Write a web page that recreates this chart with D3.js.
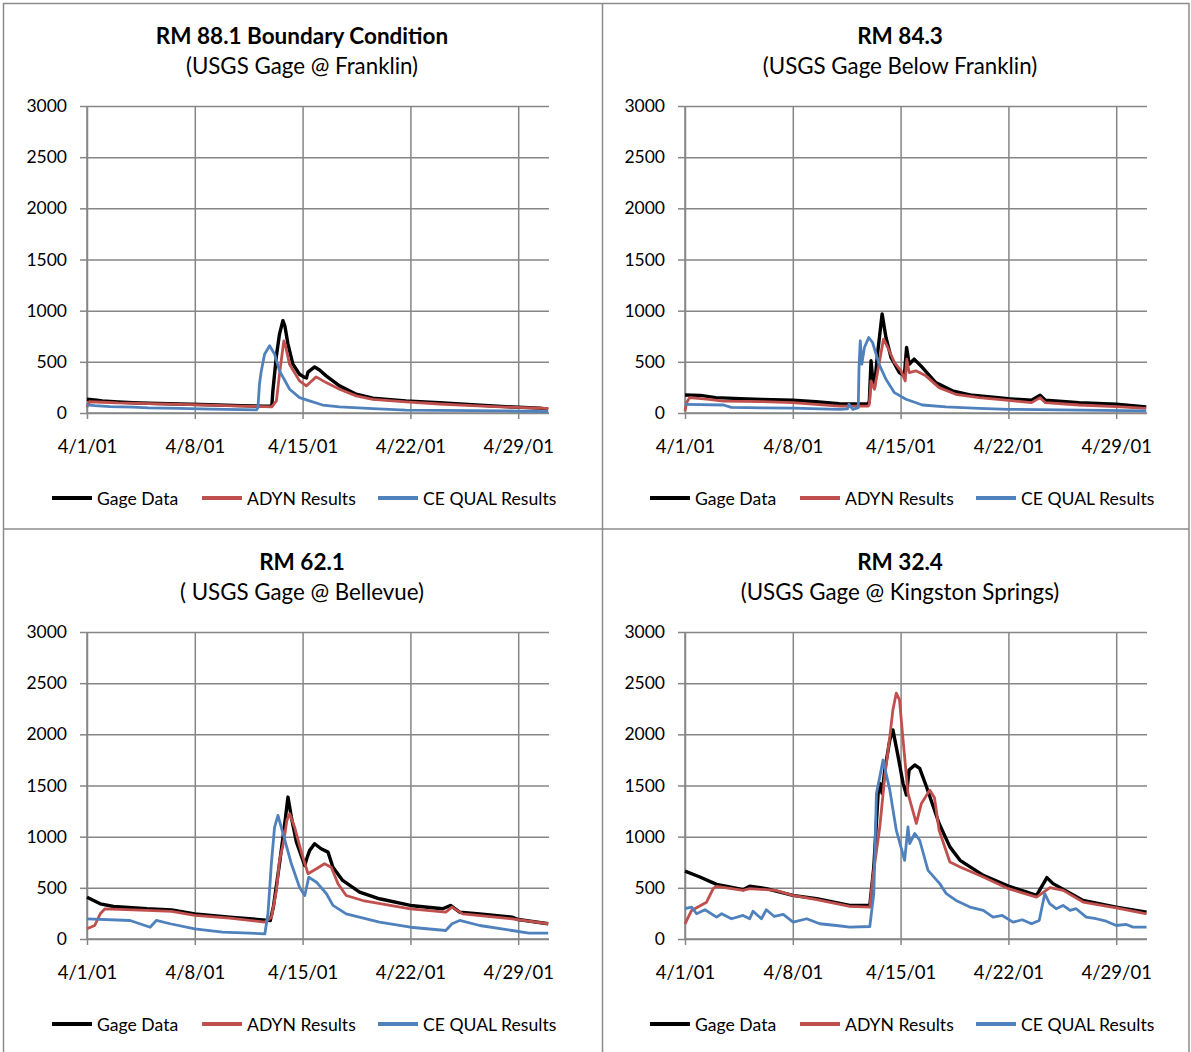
<!DOCTYPE html>
<html>
<head>
<meta charset="utf-8">
<script src="https://cdn.jsdelivr.net/npm/d3@7"></script>
<style>
  body { margin: 0; background: #fff; }
  svg { display: block; font-family: Lato, "Open Sans", sans-serif; }
</style>
</head>
<body>
<svg id="chart" width="1191" height="1052"></svg>
<script>
// values: [day since 4/1/01, flow]
const rm881Gage = [[0,135],[0.5,128],[1,118],[2,108],[3,100],[4,95],[6,88],[8,80],[10,72],[11.5,66],[12,70],[12.07,215],[12.3,560],[12.5,771],[12.72,902],[12.85,850],[13.05,673],[13.37,477],[13.8,379],[14.1,350],[14.25,342],[14.35,400],[14.78,450],[15.1,420],[15.53,363],[16.4,265],[17.48,183],[18.56,144],[20.7,118],[22.9,101],[25,80],[27.2,62],[29.4,48],[29.95,38]];
const rm881Adyn = [[0,60],[0.15,110],[1,105],[2,98],[4,92],[6,85],[8,77],[10,68],[12,60],[12.3,118],[12.5,380],[12.78,705],[12.9,650],[13.15,477],[13.8,314],[14.24,265],[14.5,300],[14.88,353],[15.53,297],[16.4,232],[17.48,167],[18.56,134],[20.7,108],[22.9,88],[25,72],[27.2,58],[29.4,48],[29.95,42]];
const rm881Ceq = [[0,80],[0.5,72],[1.5,62],[3,58],[4,50],[6,45],[8,38],[10,32],[11,30],[11.1,52],[11.2,284],[11.3,395],[11.53,575],[11.86,657],[12.18,575],[12.5,412],[13.16,232],[13.8,150],[14.45,118],[15.3,78],[16.4,59],[18.56,42],[20.7,29],[22.9,26],[27.2,20],[29.95,14]];

const rm843Gage = [[0,176],[1,172],[2,150],[3.6,140],[5,133],[7,124],[8.5,110],[10,91],[11.9,88],[11.97,118],[12.08,510],[12.18,346],[12.3,248],[12.5,575],[12.8,967],[13.05,738],[13.38,542],[13.92,395],[14.24,363],[14.39,640],[14.56,477],[14.88,526],[15.42,444],[16.28,297],[17.36,216],[18.65,173],[21,140],[22.5,124],[23.06,173],[23.4,124],[25.6,101],[28,85],[29.95,59]];
const rm843Adyn = [[0,20],[0.1,100],[0.3,150],[1.4,135],[2.5,117],[5,112],[7,102],[8.5,85],[10,68],[11.9,68],[11.97,85],[12.08,313],[12.3,232],[12.5,395],[12.89,722],[13.17,640],[13.6,493],[14.03,412],[14.3,314],[14.4,526],[14.56,395],[14.99,412],[15.64,363],[16.5,248],[17.58,183],[19.1,150],[21,124],[22.5,101],[23.06,150],[23.4,101],[25.6,78],[28,62],[29.95,46]];
const rm843Ceq = [[0,85],[1,82],[2.5,78],[3,55],[5,50],[7,47],[10,36],[10.55,40],[10.65,85],[10.9,36],[11.25,52],[11.3,444],[11.38,705],[11.48,477],[11.65,640],[11.93,738],[12.18,689],[12.6,477],[13.05,330],[13.6,199],[14.35,134],[15.42,78],[16.94,59],[19.1,46],[21,36],[24.4,30],[29.95,20]];

const rm621Gage = [[0,409],[0.86,344],[1.73,318],[3.89,295],[5.5,285],[7,246],[9.27,213],[11.45,187],[11.9,180],[12.1,311],[12.5,735],[12.84,1127],[13.05,1387],[13.27,1191],[13.6,947],[14.14,719],[14.3,800],[14.46,866],[14.78,931],[15.2,882],[15.65,849],[15.97,702],[16.6,572],[17.7,458],[18.99,393],[21,328],[23.1,295],[23.6,328],[24.2,262],[25.5,246],[27.6,213],[28,190],[29.95,149]];
const rm621Adyn = [[0,100],[0.5,132],[0.86,246],[1.17,295],[3.89,279],[5.5,270],[7,230],[9.27,205],[11.55,164],[11.98,213],[12.3,474],[12.5,768],[12.77,947],[12.98,1159],[13.16,1224],[13.48,1093],[13.92,849],[14.35,638],[14.9,687],[15.42,735],[15.86,702],[16.3,540],[16.83,425],[17.91,376],[21,295],[23.3,262],[23.7,311],[24.4,246],[27.6,197],[29.95,149]];
const rm621Ceq = [[0,197],[2.8,181],[4.1,115],[4.5,181],[5.4,149],[7,100],[8.8,67],[11.55,51],[11.75,246],[11.97,735],[12.18,1093],[12.4,1208],[12.73,1029],[13.27,735],[13.8,506],[14.14,425],[14.4,604],[14.9,555],[15.55,442],[15.97,328],[16.83,246],[18.99,164],[21,115],[23.3,83],[23.7,149],[24.2,181],[25.5,132],[27.6,83],[28.7,57],[29.95,57]];

const rm324Gage = [[0,664],[0.97,606],[2.05,534],[2.9,508],[3.77,482],[4.2,515],[5.28,492],[7,426],[8.55,394],[10.7,328],[12,328],[12.26,703],[12.54,1423],[12.65,1521],[12.8,1423],[12.97,1651],[13.3,1945],[13.5,2043],[13.84,1782],[14.16,1521],[14.38,1406],[14.55,1651],[14.92,1700],[15.24,1668],[15.68,1488],[16.5,1129],[17.2,900],[17.86,769],[19.37,622],[21,518],[22.83,426],[23.5,600],[23.9,541],[25.85,377],[28,312],[29.97,263]];
const rm324Adyn = [[0,149],[0.43,279],[1.4,360],[1.83,492],[2.05,515],[3.77,475],[4.2,492],[5.9,475],[7,426],[8.55,385],[10.7,318],[12,311],[12.2,606],[12.65,1096],[12.97,1586],[13.3,1978],[13.5,2239],[13.72,2403],[13.93,2337],[14.16,1945],[14.48,1423],[15.02,1129],[15.35,1325],[15.9,1455],[16.2,1380],[16.5,1063],[17.2,753],[17.86,704],[19.37,606],[21,492],[22.83,410],[23.7,502],[24.56,475],[25.85,361],[28,305],[29.97,246]];
const rm324Ceq = [[0,296],[0.43,312],[0.75,247],[1.3,286],[2.05,214],[2.38,247],[3.02,198],[3.77,230],[4.2,198],[4.42,272],[4.96,198],[5.28,286],[5.8,220],[6.38,240],[7.02,165],[7.9,198],[8.75,149],[9.83,132],[10.7,116],[12,122],[12.26,443],[12.43,1423],[12.65,1586],[12.86,1749],[13.3,1455],[13.72,1063],[14.26,769],[14.48,1096],[14.59,933],[14.92,1031],[15.24,965],[15.78,671],[16.54,541],[16.97,443],[17.6,377],[18.5,312],[19.37,279],[20,214],[20.6,230],[21.3,165],[21.9,188],[22.5,149],[23,181],[23.36,443],[23.68,345],[24.1,296],[24.55,328],[25,279],[25.4,296],[26.05,214],[26.7,198],[27.35,174],[28,132],[28.65,142],[29.1,116],[29.97,116]];

const titles = ["RM 88.1 Boundary Condition", "RM 84.3", "RM 62.1", "RM 32.4"];
const subtitles = ["(USGS Gage @ Franklin)", "(USGS Gage Below Franklin)", "( USGS Gage @ Bellevue)", "(USGS Gage @ Kingston Springs)"];
const seriesNames = ["Gage Data", "ADYN Results", "CE QUAL Results"];
const seriesColors = ["#000000", "#C0504D", "#4F81BD"];
const yTicks = [0, 500, 1000, 1500, 2000, 2500, 3000];

const panels = [
    [rm881Gage, rm881Adyn, rm881Ceq],
    [rm843Gage, rm843Adyn, rm843Ceq],
    [rm621Gage, rm621Adyn, rm621Ceq],
    [rm324Gage, rm324Adyn, rm324Ceq]
];

const startDate = new Date(2001, 3, 1);
const endDate = new Date(2001, 4, 1);
const toDate = day => new Date(startDate.getTime() + day * 864e5);
const gridColor = "#868686";

const svg = d3.select("#chart");

// panel borders
const border = svg.append("g").attr("stroke", "#8c8c8c").attr("stroke-width", 1.5);
border.append("line").attr("x1", 3).attr("x2", 1189).attr("y1", 3.5).attr("y2", 3.5);
border.append("line").attr("x1", 3).attr("x2", 1189).attr("y1", 529).attr("y2", 529);
border.append("line").attr("x1", 3.5).attr("x2", 3.5).attr("y1", 3).attr("y2", 1052);
border.append("line").attr("x1", 602.5).attr("x2", 602.5).attr("y1", 3).attr("y2", 1052);
border.append("line").attr("x1", 1189).attr("x2", 1189).attr("y1", 3).attr("y2", 1052);

function drawPanel(i) {
    const ox = (i % 2) * 598;
    const oy = Math.floor(i / 2) * 526;
    const g = svg.append("g").attr("transform", `translate(${ox},${oy})`);

    const x = d3.scaleTime().domain([startDate, endDate]).range([87, 549]);
    const y = d3.scaleLinear().domain([0, 3000]).range([413, 106]);

    // title
    g.append("text")
        .attr("x", 302).attr("y", 44)
        .attr("text-anchor", "middle")
        .style("font-size", "22.5px")
        .style("font-weight", "bold")
        .text(titles[i]);
    g.append("text")
        .attr("x", 302).attr("y", 73.5)
        .attr("text-anchor", "middle")
        .style("font-size", "22.3px")
        .text(subtitles[i]);

    // horizontal gridlines
    g.append("g")
        .attr("transform", "translate(87,0)")
        .call(d3.axisLeft(y).tickValues(yTicks).tickSize(-462).tickPadding(20).tickFormat(d3.format("d")))
        .call(a => a.select(".domain").remove())
        .call(a => a.selectAll(".tick line").attr("stroke", gridColor).attr("stroke-width", 1.5))
        .call(a => a.selectAll(".tick").append("line").attr("x1", -7).attr("x2", 0).attr("stroke", gridColor).attr("stroke-width", 1.5))
        .call(a => a.selectAll(".tick text").style("font-size", "17.5px").attr("fill", "#000").style("font-family", "Lato"));

    // vertical gridlines + date labels
    g.append("g")
        .attr("transform", "translate(0,413)")
        .call(d3.axisBottom(x).tickValues(d3.range(0, 30, 7).map(toDate))
            .tickSize(-307).tickPadding(27).tickFormat(d3.timeFormat("%-m/%-d/%y")))
        .call(a => a.select(".domain").remove())
        .call(a => a.selectAll(".tick line").attr("stroke", gridColor).attr("stroke-width", 1.5))
        .call(a => a.selectAll(".tick").append("line").attr("y1", 0).attr("y2", 6).attr("stroke", gridColor).attr("stroke-width", 1.5))
        .call(a => a.selectAll(".tick text").style("font-size", "18.5px").attr("fill", "#000").style("font-family", "Lato"));

    // axis lines
    g.append("line").attr("x1", 87).attr("x2", 87).attr("y1", 106).attr("y2", 413).attr("stroke", gridColor).attr("stroke-width", 1.5);
    g.append("line").attr("x1", 87).attr("x2", 549).attr("y1", 413).attr("y2", 413).attr("stroke", gridColor).attr("stroke-width", 1.5);

    const line = d3.line()
        .x(d => x(toDate(d[0])))
        .y(d => y(d[1]));

    panels[i].forEach((data, k) => {
        g.append("path")
            .datum(data)
            .attr("fill", "none")
            .attr("stroke", seriesColors[k])
            .attr("stroke-width", k === 0 ? 3.4 : 2.8)
            .attr("stroke-linejoin", "round")
            .attr("d", line);
    });

    // legend
    const legendX = [52, 202, 378];
    seriesNames.forEach((name, k) => {
        const item = g.append("g").attr("transform", `translate(${legendX[k]},498)`);
        item.append("line").attr("x1", 0).attr("x2", 40)
            .attr("stroke", seriesColors[k]).attr("stroke-width", 4);
        item.append("text")
            .attr("x", 45).attr("y", 6.5)
            .style("font-size", "17.6px")
            .text(name);
    });
}

[0, 1, 2, 3].forEach(drawPanel);
</script>
</body>
</html>
